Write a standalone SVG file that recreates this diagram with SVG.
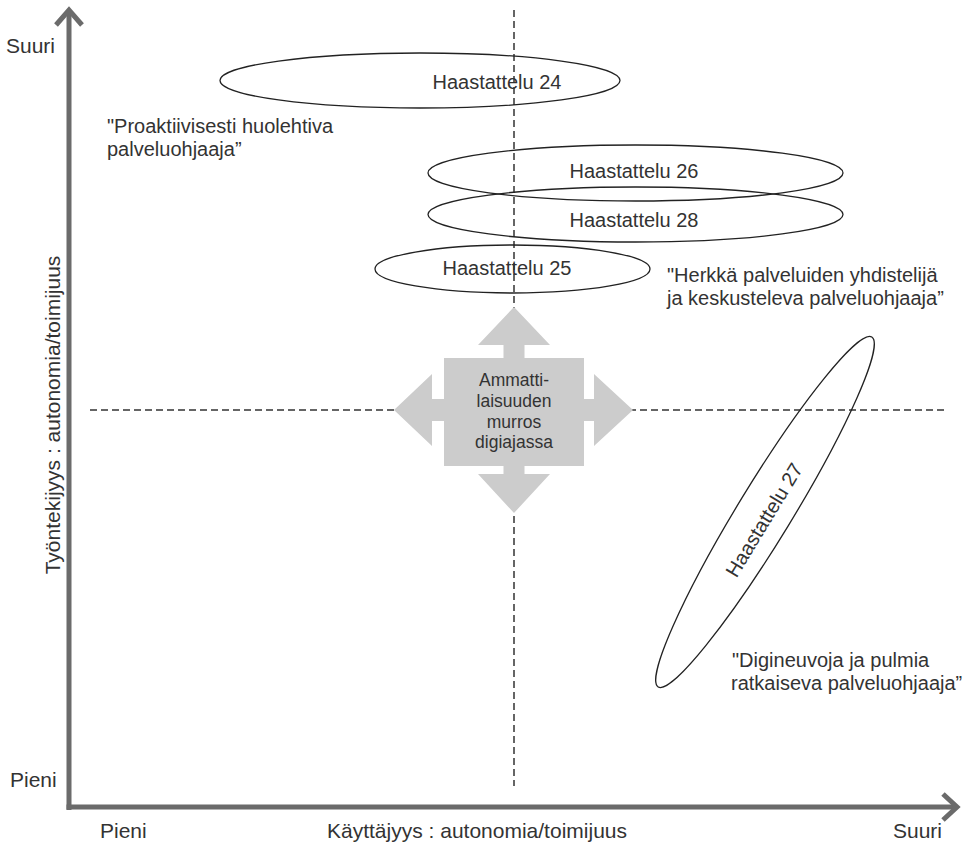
<svg xmlns="http://www.w3.org/2000/svg" width="968" height="844" viewBox="0 0 968 844">
<style>
  text { font-family: "Liberation Sans", Arial, sans-serif; fill: #333; }
  .lbl { font-size: 20px; }
  .ax { font-size: 21px; }
  .axis { fill: none; stroke: #6b6b6b; stroke-width: 5; }
  .dash { fill: none; stroke: #333; stroke-width: 1.5; stroke-dasharray: 7 4; }
  .ell { fill: none; stroke: #222; stroke-width: 1.3; }
  .mid { text-anchor: middle; }
</style>
<rect width="968" height="844" fill="#fff"/>
<g id="grid">
  <line class="dash" x1="514" y1="10" x2="514" y2="786"/>
  <line class="dash" x1="90" y1="410" x2="946" y2="410"/>
</g>
<g id="axes">
  <line class="axis" x1="69" y1="810" x2="69" y2="11"/>
  <polyline class="axis" points="56,25 69,10 82,25"/>
  <line class="axis" x1="66.5" y1="807" x2="955" y2="807"/>
  <polyline class="axis" points="943,794 957,807 943,820"/>
  <text class="ax" x="6" y="53">Suuri</text>
  <text class="ax" x="10" y="787">Pieni</text>
  <text class="ax" x="100" y="838">Pieni</text>
  <text class="ax mid" x="477" y="838">Käyttäjyys : autonomia/toimijuus</text>
  <text class="ax" x="893" y="838">Suuri</text>
  <text class="ax mid" transform="translate(60,415) rotate(-90)">Työntekijyys : autonomia/toimijuus</text>
</g>
<g id="center">
  <polygon fill="#cccccc" points="514,307 550,345 524.5,345 524.5,358 584,358 584,399 594,399 594,374 633,410 594,446 594,421 584,421 584,466 524.5,466 524.5,474 550,474 514,513 478,474 503.5,474 503.5,466 444,466 444,421 432,421 432,446 394,410 432,374 432,399 444,399 444,358 503.5,358 503.5,345 478,345"/>
  <g font-size="17.5" class="mid">
    <text class="mid" x="514" y="386" font-size="17.5">Ammatti-</text>
    <text class="mid" x="514" y="407" font-size="17.5">laisuuden</text>
    <text class="mid" x="514" y="428" font-size="17.5">murros</text>
    <text class="mid" x="514" y="448" font-size="17.5">digiajassa</text>
  </g>
</g>
<g id="h24">
  <ellipse class="ell" cx="420" cy="80.5" rx="200" ry="27.5"/>
  <text class="lbl mid" x="497" y="89">Haastattelu 24</text>
</g>
<g id="h26">
  <ellipse class="ell" cx="635.5" cy="173" rx="207.5" ry="28"/>
  <text class="lbl mid" x="634" y="178">Haastattelu 26</text>
</g>
<g id="h28">
  <ellipse class="ell" cx="635.5" cy="214.5" rx="207.5" ry="27.5"/>
  <text class="lbl mid" x="634" y="227">Haastattelu 28</text>
</g>
<g id="h25">
  <ellipse class="ell" cx="512.5" cy="269" rx="137.5" ry="24"/>
  <text class="lbl mid" x="507" y="275">Haastattelu 25</text>
</g>
<g id="h27">
  <ellipse class="ell" cx="765" cy="512" rx="205" ry="27" transform="rotate(-58.6 765 512)"/>
  <text class="lbl mid" transform="translate(764,520) rotate(-58.6)" x="0" y="7">Haastattelu 27</text>
</g>
<g id="quotes">
  <text class="lbl" x="107" y="133">"Proaktiivisesti huolehtiva</text>
  <text class="lbl" x="107" y="156">palveluohjaaja”</text>
  <text class="lbl" x="667" y="282">"Herkkä palveluiden yhdistelijä</text>
  <text class="lbl" x="667" y="305">ja keskusteleva palveluohjaaja”</text>
  <text class="lbl" x="732" y="667">"Digineuvoja ja pulmia</text>
  <text class="lbl" x="731" y="690">ratkaiseva palveluohjaaja”</text>
</g>
</svg>
